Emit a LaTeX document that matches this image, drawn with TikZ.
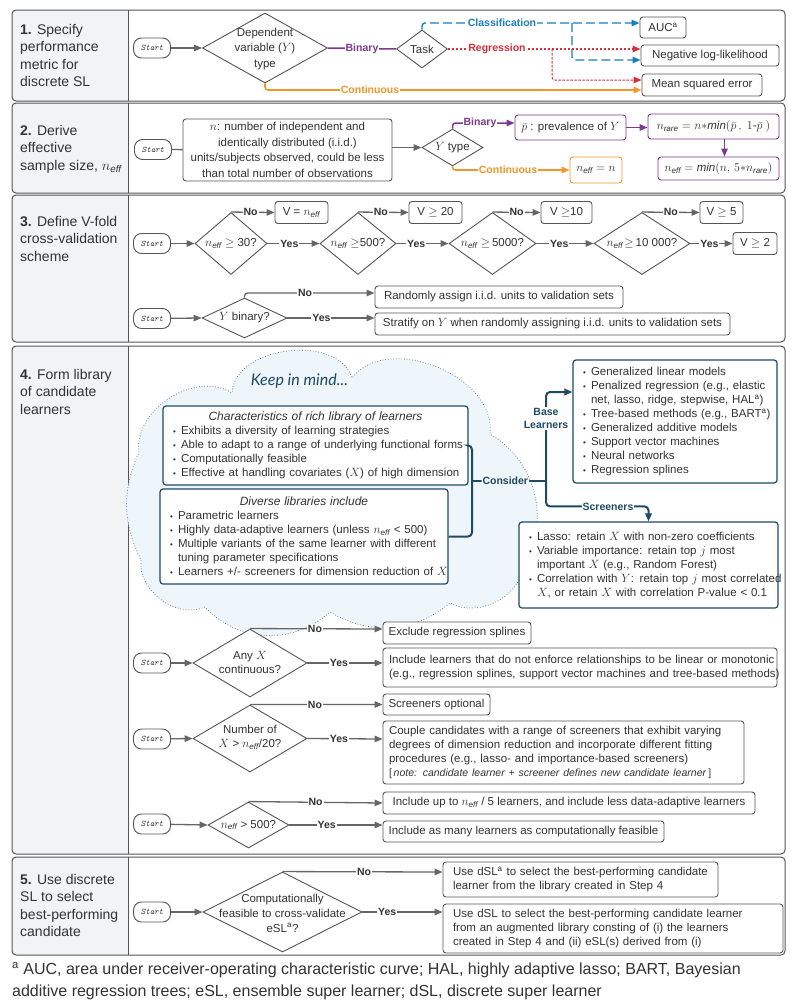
\documentclass[tikz,border=0pt]{standalone}
\usepackage{fontspec}
\setmainfont{Liberation Sans}
\newfontfamily\handfont{Lato}
\usetikzlibrary{shapes.geometric,arrows.meta}
\definecolor{gline}{HTML}{666666}
\definecolor{boxc}{HTML}{555555}
\definecolor{txtc}{HTML}{333333}
\definecolor{purp}{HTML}{7B3A8C}
\definecolor{orng}{HTML}{F2962A}
\definecolor{blu}{HTML}{1B7DC2}
\definecolor{rdc}{HTML}{D42F3C}
\definecolor{navy}{HTML}{1E4A64}
\definecolor{panel}{HTML}{F2F3F5}
\definecolor{cloudf}{HTML}{EEF5FB}
\definecolor{cloudb}{HTML}{45677F}
\newcommand\fs{\fontsize{11.5}{14}\selectfont}
\newcommand\mybul{\makebox[8pt][l]{\fontsize{8}{8}\selectfont\textbullet}}
\newcommand\mybulsp{\hspace*{8pt}}
\newcommand\myneff{n_{\mathit{eff}}}
\newcommand\ttl[1]{\makebox[\linewidth][c]{\fontsize{12}{14}\selectfont\itshape #1}}
\tikzset{
  every node/.append style={text=txtc},
  tip/.style={-{Triangle[length=8pt,width=6.5pt]}},
  startn/.style={draw=boxc, line width=0.9pt, rounded corners=8pt, minimum width=37pt, minimum height=20pt, inner sep=0pt, fill=white, font=\ttfamily\itshape\fontsize{8.5}{10}\selectfont},
  dia/.style={diamond, draw=boxc, line width=0.9pt, inner sep=0pt, fill=white},
  dtext/.style={align=center, inner sep=0pt, font=\fs},
  box/.style={draw=boxc, line width=0.9pt, rounded corners=3pt, fill=white, inner sep=0pt, align=center, font=\fs},
  lbox/.style={box, align=left, inner xsep=6pt, text width=#1},
  lboxw/.style={box, align=left, inner xsep=10pt, text width=#1},
  nbox/.style={draw=navy, line width=1.2pt, rounded corners=3pt, fill=white, inner ysep=0pt, inner xsep=10pt, align=left, font=\fs, text width=#1},
  gl/.style={draw=gline, line width=1.3pt},
  ga/.style={gl, tip},
  pa/.style={draw=purp, line width=1.5pt, tip, rounded corners=3pt},
  oa/.style={draw=orng, line width=1.6pt, tip, rounded corners=3pt},
  na/.style={draw=navy, line width=2pt, rounded corners=4pt},
  lbl/.style={font=\bfseries\fontsize{10.5}{12}\selectfont, fill=white, inner sep=1pt},
  sect/.style={anchor=north west, align=left, inner sep=0pt, font=\fontsize{14}{17.5}\selectfont},
}
\begin{document}
\begin{tikzpicture}[x=1pt,y=-1pt]
\fill[white] (0,0) rectangle (794,1007);
\useasboundingbox (0,0) rectangle (794,1007);
% section frames
\foreach \ya/\yb in {10/101, 103/193, 195/342, 346/854, 857/955} {
  \begin{scope}
    \clip[rounded corners=4pt] (12,\ya) rectangle (785,\yb);
    \fill[panel] (12,\ya) rectangle (128,\yb);
  \end{scope}
  \draw[draw=boxc, line width=1pt, rounded corners=4pt] (12,\ya) rectangle (785,\yb);
  \draw[draw=boxc, line width=1pt] (128,\ya) -- (128,\yb);
}
% titles
\node[sect] (t1) at (20,24) {\textbf{1.} Specify\\performance\\metric for\\discrete SL};
\node[sect] (t2) at (20,125) {\textbf{2.} Derive\\effective\\sample size, \(\myneff\)};
\node[sect] (t3) at (20,216) {\textbf{3.} Define V-fold\\cross-validation\\scheme};
\node[sect] (t4) at (20,369) {\textbf{4.} Form library\\of candidate\\learners};
\node[sect] (t5) at (20,874) {\textbf{5.} Use discrete\\SL to select\\best-performing\\candidate};

% ===== Section 1
\node[startn] (s1) at (152,48) {Start};
\node[dia, minimum width=125pt, minimum height=70pt] (d1) at (265,48) {};
\node[dtext, font=\fontsize{11.5}{15.5}\selectfont] (d1t) at (265,49) {Dependent\\variable (\(Y\))\\type};
\node[dia, minimum width=51pt, minimum height=38pt] (task) at (422,49) {};
\node[dtext] (taskt) at (422,49) {Task};
\node[box, minimum width=46pt, minimum height=21pt] (auc) at (663,27.5) {AUC\textsuperscript{a}};
\node[box, minimum width=138pt, minimum height=21pt] (nll) at (710,55.5) {Negative log-likelihood};
\node[box, minimum width=120pt, minimum height=22pt] (mse) at (702,85) {Mean squared error};
\draw[ga] (s1) -- (d1.west);
\draw[draw=purp, line width=1.5pt] (d1.east) -- node[lbl, text=purp] (lbin1) {Binary} (task.west);
\draw[draw=blu, line width=1.4pt, dash pattern=on 9pt off 4pt, rounded corners=3pt, tip] (task.north) |- ([yshift=4.5pt]auc.west);
\coordinate (cbr) at (572,23);
\draw[draw=blu, line width=1.4pt, dash pattern=on 9pt off 4pt, rounded corners=3pt, tip] (cbr) |- ([yshift=-4.5pt]nll.west);
\node[lbl, text=blu] (lcls) at (502,22.5) {Classification};
\draw[draw=rdc, line width=1.4pt, dash pattern=on 2.5pt off 1.5pt, tip] (task.east) -- ([yshift=6.5pt]nll.west);
\coordinate (rbr) at (552,49);
\draw[draw=rdc, line width=1pt, dash pattern=on 2.5pt off 1.5pt, rounded corners=3pt, tip] (rbr) |- ([yshift=5pt]mse.west);
\node[lbl, text=rdc] (lreg) at (497,48.5) {Regression};
\draw[oa] (d1.south) |- ([yshift=-5pt]mse.west);
\node[lbl, text=orng] (lcon1) at (370,89.5) {Continuous};

% ===== Section 2
\node[startn] (s2) at (153,149.5) {Start};
\node[box, minimum width=209pt, minimum height=62pt, font=\fontsize{11.5}{15.5}\selectfont] (nb) at (287.5,150) {\(n\): number of independent and\\identically distributed (i.i.d.)\\units/subjects observed, could be less\\than total number of observations};
\draw[gl] (s2) -- (nb);
\node[dia, minimum width=61pt, minimum height=37pt] (yt) at (452.5,147.5) {};
\node[dtext] (ytt) at (452.5,147.5) {\(Y\) type};
\draw[ga] (nb.east |- yt.west) -- (yt.west);
\node[box, draw=purp, minimum width=111pt, minimum height=25pt] (pb) at (570.5,127.5) {\(\bar{p}\) : prevalence of \(Y\)};
\draw[pa] (yt.north) |- ([yshift=4.5pt]pb.west);
\node[lbl, text=purp] (lbin2) at (480,122.5) {Binary};
\node[box, draw=purp, minimum width=131pt, minimum height=25pt] (nr) at (713.5,126.5) {\(n_{\mathit{rare}} = n{*}\mathit{min}(\bar{p}\,,\ 1\mbox{-}\bar{p}\ )\)};
\draw[pa] (pb.east) -- (pb.east -| nr.west);
\node[box, draw=purp, minimum width=121pt, minimum height=23pt] (ne2) at (718.5,168.5) {\(\myneff = \mathit{min}(n,\, 5{*}n_{\mathit{rare}})\)};
\draw[pa] ([xshift=11pt]nr.south) -- ([xshift=11pt]nr.south |- ne2.north);
\node[box, draw=orng, minimum width=52pt, minimum height=26pt] (ne1) at (596,170) {\(\myneff = n\)};
\draw[oa] (yt.south) |- (ne1.west);
\node[lbl, text=orng] (lcon2) at (508,170) {Continuous};

% ===== Section 3
\node[startn] (s3) at (152,243.5) {Start};
\node[dia, minimum width=72pt, minimum height=62pt] (q1) at (231,243.5) {};
\node[dtext] (q1t) at (231,243.5) {\(\myneff \geq\) 30?};
\node[dia, minimum width=76pt, minimum height=62pt] (q2) at (358,243.5) {};
\node[dtext] (q2t) at (358,243.5) {\(\myneff \geq\)500?};
\node[dia, minimum width=87pt, minimum height=62pt] (q3) at (492.5,243.5) {};
\node[dtext] (q3t) at (492.5,243.5) {\(\myneff \geq\)\,5000?};
\node[dia, minimum width=96pt, minimum height=62pt] (q4) at (642,243.5) {};
\node[dtext] (q4t) at (642,243.5) {\(\myneff\!\geq\)\,10 000?};
\node[box, minimum width=53pt, minimum height=22pt] (v1) at (301.5,212.5) {V = \(\myneff\)};
\node[box, minimum width=53pt, minimum height=22pt] (v2) at (435.5,212.5) {V \(\geq\) 20};
\node[box, minimum width=51pt, minimum height=22pt] (v3) at (566.5,212.5) {V \(\geq\)10};
\node[box, minimum width=43pt, minimum height=22pt] (v4) at (721.5,212.5) {V \(\geq\) 5};
\node[box, minimum width=44pt, minimum height=22pt] (v5) at (755,243.5) {V \(\geq\) 2};
\draw[ga] (s3) -- (q1.west);
\draw[ga] (q1.north) -- node[lbl, pos=0.45] (n1) {No} (v1.west);
\draw[ga] (q2.north) -- node[lbl, pos=0.45] (n2) {No} (v2.west);
\draw[ga] (q3.north) -- node[lbl, pos=0.5] (n3) {No} (v3.west);
\draw[ga] (q4.north) -- node[lbl, pos=0.5] (n4) {No} (v4.west);
\draw[ga] (q1.east) -- node[lbl, pos=0.42] (y1) {Yes} (q2.west);
\draw[ga] (q2.east) -- node[lbl, pos=0.38] (y2) {Yes} (q3.west);
\draw[ga] (q3.east) -- node[lbl, pos=0.4] (y3) {Yes} (q4.west);
\draw[ga] (q4.east) -- node[lbl, pos=0.45] (y4) {Yes} (v5.west);
% row 2
\node[startn] (s3b) at (152,318.5) {Start};
\node[dia, minimum width=85pt, minimum height=40pt] (yb) at (244.5,318) {};
\node[dtext] (ybt) at (244.5,318) {\(Y\) binary?};
\node[box, minimum width=248pt, minimum height=22pt] (rand) at (499,297) {Randomly assign i.i.d. units to validation sets};
\node[box, minimum width=355pt, minimum height=22pt] (strat) at (552.5,324) {Stratify on \(Y\) when randomly assigning i.i.d. units to validation sets};
\draw[ga] (s3b) -- (yb.west);
\draw[ga, rounded corners=3pt] (yb.north) |- ([yshift=4pt]rand.west);
\node[lbl] (n5) at (305,293) {No};
\draw[ga] (yb.east) -- node[lbl, pos=0.39] (y5) {Yes} ([yshift=6pt]strat.west);

% ===== Section 4 upper
\draw[draw=cloudb, dotted, line width=0.7pt, fill=cloudf]
  (139,452) to[bend left=65] (232,393) to[bend left=80] (352,378)
  to[bend left=75] (490,434) to[bend left=45] (524,565)
  to[bend left=55] (450,603) to[bend left=35] (330,612)
  to[bend left=45] (205,607) to[bend left=60] (141,560)
  to[bend left=25] (139,452) -- cycle;
\node[font=\handfont\itshape\fontsize{16}{18}\selectfont, text=navy] (kim) at (299.5,381) {Keep in mind...};
\node[nbox=285pt, minimum height=79pt] (chb) at (315.5,445.5) {\ttl{Characteristics of rich library of learners}\\
\mbox{\mybul Exhibits a diversity of learning strategies}\\
\mbox{\mybul Able to adapt to a range of underlying functional forms}\\
\mbox{\mybul Computationally feasible}\\
\mbox{\mybul Effective at handling covariates (\(X\)) of high dimension}};
\node[nbox=268pt, minimum height=95pt] (dvb) at (304,536.5) {\ttl{Diverse libraries include}\\
\mbox{\mybul Parametric learners}\\
\mbox{\mybul Highly data-adaptive learners (unless \(\myneff\) < 500)}\\
\mbox{\mybul Multiple variants of the same learner with different}\\
\mbox{\mybulsp tuning parameter specifications}\\
\mbox{\mybul Learners +/- screeners for dimension reduction of \(X\)}};
\node[nbox=184pt, minimum height=123pt] (bl) at (675,421.5) {\mbox{\mybul Generalized linear models}\\
\mbox{\mybul Penalized regression (e.g., elastic}\\
\mbox{\mybulsp net, lasso, ridge, stepwise, HAL\textsuperscript{a})}\\
\mbox{\mybul Tree-based methods (e.g., BART\textsuperscript{a})}\\
\mbox{\mybul Generalized additive models}\\
\mbox{\mybul Support vector machines}\\
\mbox{\mybul Neural networks}\\
\mbox{\mybul Regression splines}};
\node[nbox=239pt, minimum height=86pt] (scr) at (648.5,565) {\mbox{\mybul Lasso: retain \(X\) with non-zero coefficients}\\
\mbox{\mybul Variable importance: retain top \(j\) most}\\
\mbox{\mybulsp important \(X\) (e.g., Random Forest)}\\
\mbox{\mybul Correlation with \(Y\): retain top \(j\) most correlated}\\
\mbox{\mybulsp \(X\), or retain \(X\) with correlation P-value < 0.1}};
\coordinate (brk) at (472,481);
\coordinate (trunk) at (546,481);
\draw[na] (chb.east) -| (brk) |- (dvb.east);
\draw[na] (brk) -- node[lbl, text=navy, fill=cloudf, pos=0.45] (lcons) {Consider} (trunk);
\draw[na, tip] (trunk) |- ([yshift=29.5pt]bl.west);
\draw[na, tip] (trunk) |- ([yshift=15pt]scr.north) -- (scr.north);
\node[lbl, text=navy, align=center, font=\bfseries\fontsize{10.5}{13}\selectfont] (lbase) at (546,418.5) {Base\\Learners};
\node[lbl, text=navy] (lscr) at (608,507) {Screeners};

% ===== Section 4 lower
\node[startn] (s4a) at (152,663) {Start};
\node[dia, minimum width=114pt, minimum height=68pt] (qa) at (250,663) {};
\node[dtext] (qat) at (250,662) {Any \(X\)\\continuous?};
\node[box, minimum width=148pt, minimum height=22pt] (exa) at (457,633) {Exclude regression splines};
\node[lbox=382pt, minimum height=39pt] (inca) at (580,667.5) {\mbox{Include learners that do not enforce relationships to be linear or monotonic}\\\mbox{(e.g., regression splines, support vector machines and tree-based methods)}};
\draw[ga] (s4a) -- (qa.west);
\draw[ga] (qa.north) -- node[lbl, pos=0.49] (n6) {No} ([yshift=4pt]exa.west);
\draw[ga] (qa.east) -- node[lbl, pos=0.42] (y6) {Yes} ([yshift=4.5pt]inca.west);

\node[startn] (s4b) at (152,739) {Start};
\node[dia, minimum width=114pt, minimum height=67pt] (qb) at (250,738.5) {};
\node[dtext] (qbt) at (250,737) {Number of\\\(X\) > \(\myneff\)/20?};
\node[box, minimum width=107pt, minimum height=21pt] (scb) at (436.5,704.5) {Screeners optional};
\node[lbox=349pt, minimum height=63pt] (cpb) at (563.5,752.5) {\mbox{Couple candidates with a range of screeners that exhibit varying}\\\mbox{degrees of dimension reduction and incorporate different fitting}\\\mbox{procedures (e.g., lasso- and importance-based screeners)}\\\mbox{\fontsize{10.5}{14}\selectfont[\,\textit{note: candidate learner + screener defines new candidate learner}\,]}};
\draw[ga] (s4b) -- (qb.west);
\draw[ga] (qb.north) -- node[lbl, pos=0.49] (n7) {No} (scb.west);
\draw[ga] (qb.east) -- node[lbl, pos=0.42] (y7) {Yes} ([yshift=13.5pt]cpb.west);

\node[startn] (s4c) at (152,824) {Start};
\node[dia, minimum width=81pt, minimum height=46pt] (qc) at (248.5,825) {};
\node[dtext] (qct) at (248.5,825) {\(\myneff\) > 500?};
\node[box, minimum width=372pt, minimum height=22pt] (icb) at (569,803) {Include up to \(\myneff\) / 5 learners, and include less data-adaptive learners};
\node[box, minimum width=281pt, minimum height=21pt] (imb) at (523.5,831.5) {Include as many learners as computationally feasible};
\draw[ga] (s4c) -- (qc.west);
\draw[ga] (qc.north) -- node[lbl, pos=0.5] (n8) {No} (icb.west);
\draw[ga] (qc.east) -- node[lbl, pos=0.4] (y8) {Yes} ([yshift=6.5pt]imb.west);

% ===== Section 5
\node[startn] (s5) at (152,912) {Start};
\node[dia, minimum width=159pt, minimum height=80pt] (q5) at (282.5,912) {};
\node[dtext, font=\fontsize{11.5}{15}\selectfont] (q5t) at (282.5,913) {Computationally\\feasible to cross-validate\\eSL\textsuperscript{a}?};
\node[lboxw=255pt, minimum height=35pt] (b51) at (580.5,879.5) {Use dSL\textsuperscript{a} to select the best-performing candidate\\learner from the library created in Step 4};
\node[lboxw=320pt, minimum height=49pt] (b52) at (613,928.5) {Use dSL to select the best-performing candidate learner\\from an augmented library consting of (i) the learners\\created in Step 4 and (ii) eSL(s) derived from (i)};
\draw[ga] (s5) -- (q5.west);
\draw[ga] (q5.north) -- node[lbl, pos=0.51] (n9) {No} ([yshift=7.5pt]b51.west);
\draw[ga] (q5.east) -- node[lbl, pos=0.31] (y9) {Yes} ([yshift=16.5pt]b52.west);

% footnote
\node[anchor=north west, align=left, inner sep=0pt, font=\fontsize{16}{22}\selectfont] (fn) at (12,962) {\textsuperscript{a} AUC, area under receiver-operating characteristic curve; HAL, highly adaptive lasso; BART, Bayesian\\additive regression trees; eSL, ensemble super learner; dSL, discrete super learner};
\end{tikzpicture}
\end{document}
